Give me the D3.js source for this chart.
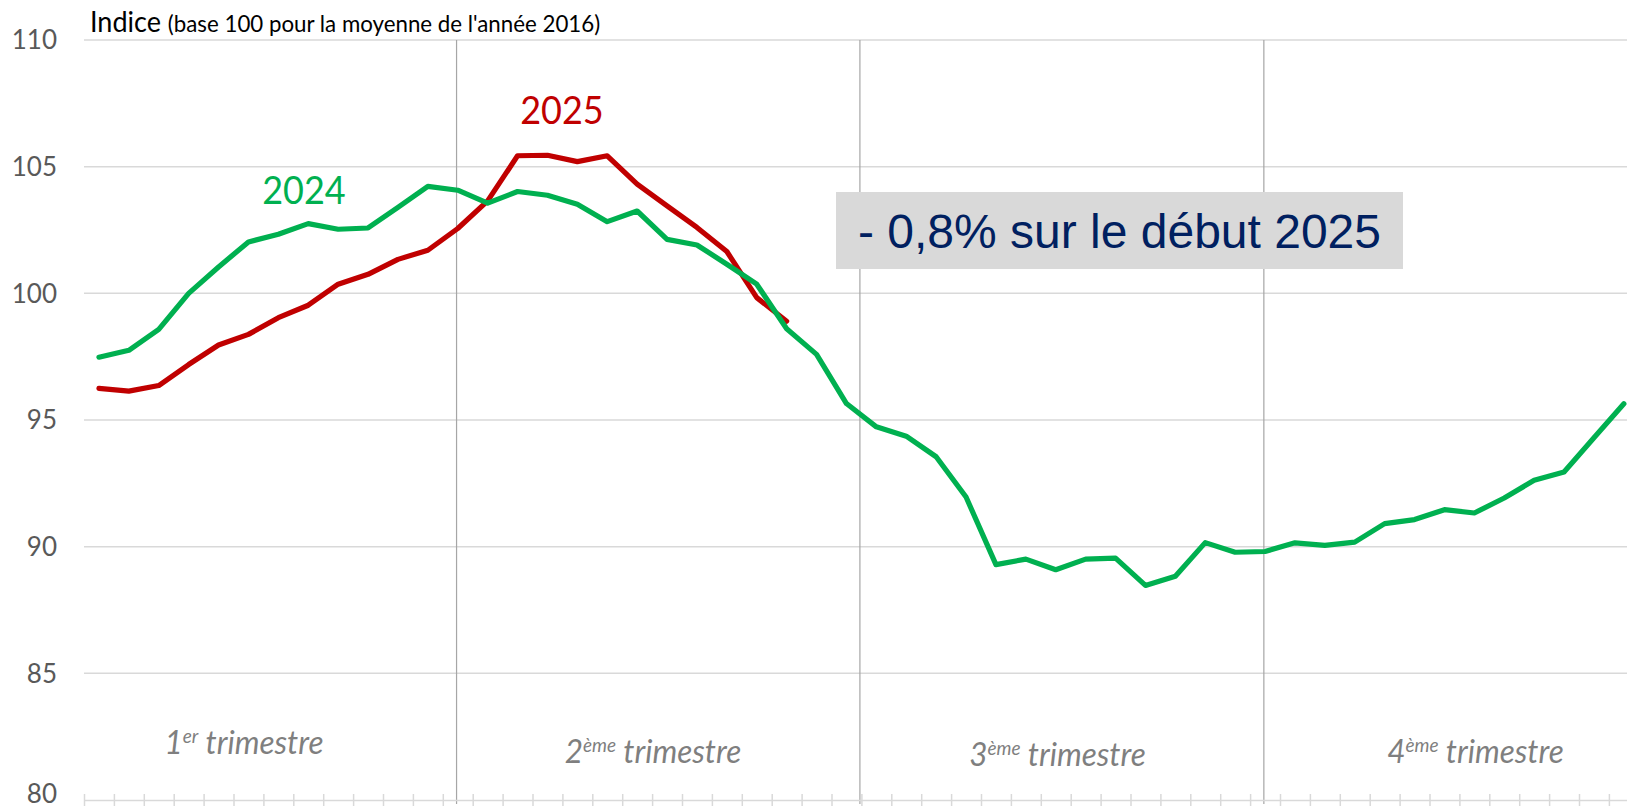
<!DOCTYPE html>
<html><head><meta charset="utf-8">
<script src="https://cdn.jsdelivr.net/npm/d3@7"></script>
<style>body{margin:0;background:#fff;overflow:hidden}</style>
</head><body><svg id="c" width="1627" height="811"></svg>
<script>
// ---- data ----
const weeks = d3.range(1, 53);
const series2024 = [97.48, 97.75, 98.58, 100.0, 101.04, 102.03, 102.33, 102.75, 102.53, 102.58,
  103.39, 104.22, 104.07, 103.56, 104.02, 103.87, 103.52, 102.83, 103.25, 102.13,
  101.91, 101.15, 100.36, 98.6, 97.59, 95.65, 94.73, 94.36, 93.55, 91.96,
  89.29, 89.51, 89.09, 89.51, 89.55, 88.47, 88.83, 90.16, 89.78, 89.81,
  90.15, 90.05, 90.18, 90.91, 91.07, 91.46, 91.33, 91.92, 92.62, 92.95, 94.30, 95.64];
const series2025 = [96.25, 96.14, 96.36, 97.19, 97.96, 98.38, 99.04, 99.53, 100.36, 100.75,
  101.34, 101.70, 102.56, 103.65, 105.43, 105.45, 105.2, 105.43, 104.31, 103.45,
  102.6, 101.65, 99.83, 98.9];
const yTicks = [80, 85, 90, 95, 100, 105, 110];
const quarterBounds = [12.46, 25.95, 39.46];           // in weeks
const quarterNames = [["1", "er"], ["2", "ème"], ["3", "ème"], ["4", "ème"]];
const seriesNames = ["2024", "2025"];
const titleMain = "Indice";
const titleSub = "(base 100 pour la moyenne de l'année 2016)";
const annotation = "- 0,8% sur le début 2025";

// ---- layout ----
const W = 1627, H = 811;
const plotLeft = 84, step = 29.9, plotTop = 40, plotBottom = 800;
const green = "#00b050", red = "#c00000";
const sy = 1.06;

const svg = d3.select("#c");
const x = d3.scaleLinear().domain([0, weeks.length]).range([plotLeft, plotLeft + step * weeks.length]);
const y = d3.scaleLinear().domain([80, 110]).range([plotBottom, plotTop]);

// gridlines
svg.append("g").selectAll("line").data(yTicks.filter(t => t > 80)).join("line")
  .attr("x1", plotLeft).attr("x2", W).attr("y1", d => y(d)).attr("y2", d => y(d))
  .attr("stroke", "#d9d9d9").attr("stroke-width", 1.5);

// y tick labels (lowest one nudged up slightly to stay inside the frame)
svg.append("g").selectAll("text").data(yTicks).join("text")
  .attr("transform", d => `translate(57,${y(d) - (d === 80 ? 6 : 0)}) scale(1,${sy})`)
  .attr("text-anchor", "end").attr("dy", "0.34em")
  .attr("font-family", "Lato").attr("font-size", 26).attr("fill", "#595959")
  .text(d => d);

// quarter separators
svg.append("g").selectAll("line").data(quarterBounds).join("line")
  .attr("x1", d => x(d)).attr("x2", d => x(d)).attr("y1", plotTop).attr("y2", plotBottom + 4)
  .attr("stroke", "#a6a6a6").attr("stroke-width", 1.2);

// x axis line + cross ticks
const xAxis = d3.axisBottom(x).tickValues(d3.range(0, weeks.length + 1)).tickSize(0).tickFormat("");
const gx = svg.append("g").attr("transform", `translate(0,${plotBottom})`).call(xAxis);
gx.select(".domain").attr("stroke", "#d9d9d9").attr("stroke-width", 1.5);
gx.selectAll(".tick line").attr("y1", -6).attr("y2", 6).attr("stroke", "#d9d9d9").attr("stroke-width", 1.5);

// lines
const line = d3.line().x((d, i) => x(i + 0.5)).y(d => y(d));
svg.append("path").datum(series2025).attr("d", line).attr("fill", "none")
  .attr("stroke", red).attr("stroke-width", 5.2).attr("stroke-linejoin", "round").attr("stroke-linecap", "round");
svg.append("path").datum(series2024).attr("d", line).attr("fill", "none")
  .attr("stroke", green).attr("stroke-width", 5.2).attr("stroke-linejoin", "round").attr("stroke-linecap", "round");

// series labels
const serLab = [{t: seriesNames[0], cx: 304, by: 204, c: green}, {t: seriesNames[1], cx: 562, by: 124, c: red}];
svg.append("g").selectAll("text").data(serLab).join("text")
  .attr("transform", d => `translate(${d.cx},${d.by}) scale(1,${sy})`)
  .attr("text-anchor", "middle").attr("font-family", "Lato").attr("font-size", 36)
  .attr("fill", d => d.c).text(d => d.t);

// title
const tt = svg.append("text").attr("transform", `translate(90,32) scale(1,${sy})`)
  .attr("font-family", "Lato").attr("fill", "#000");
tt.append("tspan").attr("font-size", 27).text(titleMain + " ");
tt.append("tspan").attr("font-size", 22.3).text(titleSub);

// quarter labels
const qPos = [{cx: 244, by: 754}, {cx: 653, by: 763}, {cx: 1057.5, by: 766}, {cx: 1475.5, by: 763}];
quarterNames.forEach((q, i) => {
  const t = svg.append("text").attr("transform", `translate(${qPos[i].cx},${qPos[i].by}) scale(1,${sy})`)
    .attr("text-anchor", "middle").attr("font-family", "Lato").attr("font-style", "italic")
    .attr("font-size", 31.5).attr("fill", "#7f7f7f");
  t.append("tspan").text(q[0]);
  t.append("tspan").attr("font-size", 19).attr("dy", "-0.55em").text(q[1]);
  t.append("tspan").attr("dy", "0.33em").text(" trimestre");
});

// annotation box
const ag = svg.append("g");
ag.append("rect").attr("x", 836).attr("y", 192).attr("width", 567).attr("height", 77).attr("fill", "#d9d9d9");
ag.append("text").attr("x", 858).attr("y", 248).attr("font-family", "Liberation Sans, Arial")
  .attr("font-size", 48).attr("fill", "#002060").text(annotation);
</script></body></html>
